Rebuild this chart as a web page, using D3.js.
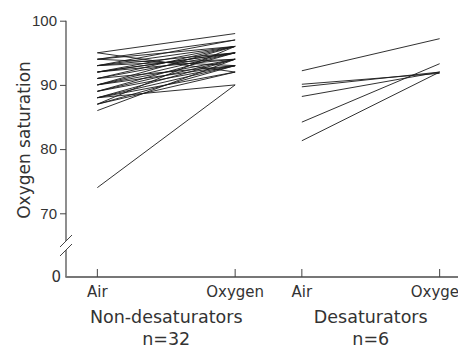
<!DOCTYPE html>
<html>
<head>
<meta charset="utf-8">
<script src="https://cdn.jsdelivr.net/npm/d3@7"></script>
<style>
  body { margin: 0; background: #fff; }
  svg { display: block; font-family: "DejaVu Sans", sans-serif; }
  text { fill: #333; }
</style>
</head>
<body>
<div id="chart"></div>
<script>
// groups and conditions
const groups = ["Non-desaturators", "Desaturators"];
const groupN = ["n=32", "n=6"];
const conditions = ["Air", "Oxygen"];
const yTicks = [70, 80, 90, 100];

// saturation on air / on oxygen, one entry per child
const nonDesatAir = [95, 95, 94, 94, 94, 93, 93, 93, 93, 92, 92, 92, 91, 91, 91, 90,
                     90, 90, 90, 89, 89, 89, 88, 88, 88, 88, 87, 87, 87, 86, 74, 92];
const nonDesatOxygen = [92, 98, 97, 96, 93, 96, 95, 94, 97, 96, 95, 94, 96, 95, 93, 95,
                        94, 93, 96, 94, 93, 95, 93, 94, 92, 90, 92, 93, 96, 94, 90, 95];
const desatAir = [92.2, 90.1, 89.7, 88.2, 84.2, 81.3];
const desatOxygen = [97.2, 91.8, 92.0, 92.0, 93.3, 92.0];

const width = 458, height = 350;
const axisLeft = 66, axisBottom = 277;

const svg = d3.select("#chart").append("svg")
  .attr("width", width)
  .attr("height", height);

// scales
const y = d3.scaleLinear().domain([70, 100]).range([213.3, 20.7]);

const xGroup = d3.scaleBand().domain(groups).range([64, 473]);
const xCond = d3.scalePoint().domain(conditions)
  .range([0, xGroup.bandwidth()]).padding(0.242);

// y axis, top part with ticks
const yAxis = d3.axisLeft(y).tickValues(yTicks).tickSize(6).tickPadding(3);
const gy = svg.append("g")
  .attr("transform", "translate(" + axisLeft + ",0)")
  .call(yAxis);
gy.select(".domain").remove();
gy.selectAll(".tick line").attr("stroke", "#444");
gy.selectAll(".tick text")
  .style("font-size", "15px")
  .attr("fill", "#333");

const breakTop = 241, breakBot = 250;
svg.append("line")
  .attr("x1", axisLeft).attr("x2", axisLeft)
  .attr("y1", y(100)).attr("y2", breakTop)
  .attr("stroke", "#444").attr("stroke-width", 1.2);
svg.append("line")
  .attr("x1", axisLeft).attr("x2", axisLeft)
  .attr("y1", breakBot).attr("y2", axisBottom)
  .attr("stroke", "#444").attr("stroke-width", 1.2);

// break marks
[breakTop, breakBot].forEach(function(b) {
  svg.append("line")
    .attr("x1", axisLeft - 6).attr("y1", b + 6)
    .attr("x2", axisLeft + 6).attr("y2", b - 6)
    .attr("stroke", "#444").attr("stroke-width", 1);
});

// zero label
svg.append("text")
  .attr("x", axisLeft - 5)
  .attr("y", axisBottom)
  .attr("dy", "0.36em")
  .attr("text-anchor", "end")
  .style("font-size", "15px")
  .text("0");

// x axis
svg.append("line")
  .attr("x1", axisLeft - 0.6).attr("x2", width)
  .attr("y1", axisBottom).attr("y2", axisBottom)
  .attr("stroke", "#777").attr("stroke-width", 2);

groups.forEach(function(g, gi) {
  const g0 = xGroup(g);
  conditions.forEach(function(c) {
    const cx = g0 + xCond(c);
    svg.append("line")
      .attr("x1", cx).attr("x2", cx)
      .attr("y1", axisBottom - 8).attr("y2", axisBottom)
      .attr("stroke", "#444");
    svg.append("text")
      .attr("x", cx).attr("y", 297)
      .attr("text-anchor", "middle")
      .style("font-size", "15px")
      .text(c);
  });
  const mid = g0 + xGroup.bandwidth() / 2;
  svg.append("text")
    .attr("x", mid).attr("y", 323)
    .attr("text-anchor", "middle")
    .style("font-size", "17.5px")
    .text(g);
  svg.append("text")
    .attr("x", mid).attr("y", 345)
    .attr("text-anchor", "middle")
    .style("font-size", "17.5px")
    .text(groupN[gi]);
});

// y label
svg.append("text")
  .attr("transform", "translate(30,140) rotate(-90)")
  .attr("text-anchor", "middle")
  .style("font-size", "17px")
  .text("Oxygen saturation");

// paired lines
function drawPairs(group, air, oxy) {
  const g0 = xGroup(group);
  const pairs = air.map(function(a, i) { return [a, oxy[i]]; });
  svg.append("g").selectAll("line")
    .data(pairs)
    .join("line")
    .attr("x1", g0 + xCond("Air"))
    .attr("x2", g0 + xCond("Oxygen"))
    .attr("y1", function(d) { return y(d[0]); })
    .attr("y2", function(d) { return y(d[1]); })
    .attr("stroke", "#1a1a1a")
    .attr("stroke-width", 0.9);
}
drawPairs(groups[0], nonDesatAir, nonDesatOxygen);
drawPairs(groups[1], desatAir, desatOxygen);
</script>
</body>
</html>
